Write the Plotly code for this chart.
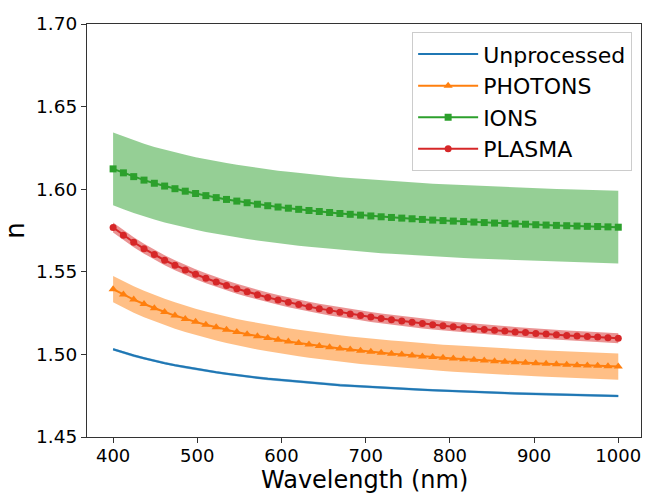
import plotly.graph_objects as go

wavelength = [400, 412.24, 424.49, 436.73, 448.98, 461.22, 473.47, 485.71, 497.96, 510.20,
              522.45, 534.69, 546.94, 559.18, 571.43, 583.67, 595.92, 608.16, 620.41, 632.65,
              644.90, 657.14, 669.39, 681.63, 693.88, 706.12, 718.37, 730.61, 742.86, 755.10,
              767.35, 779.59, 791.84, 804.08, 816.33, 828.57, 840.82, 853.06, 865.31, 877.55,
              889.80, 902.04, 914.29, 926.53, 938.78, 951.02, 963.27, 975.51, 987.76, 1000]

unprocessed = [1.5031, 1.5011, 1.4993, 1.4977, 1.4961, 1.4947, 1.4934, 1.4923, 1.4911, 1.4901,
               1.4892, 1.4883, 1.4874, 1.4866, 1.4859, 1.4852, 1.4846, 1.4840, 1.4834, 1.4829,
               1.4824, 1.4819, 1.4814, 1.4810, 1.4806, 1.4802, 1.4798, 1.4795, 1.4792, 1.4789,
               1.4786, 1.4783, 1.4780, 1.4777, 1.4775, 1.4773, 1.4770, 1.4768, 1.4766, 1.4764,
               1.4762, 1.4760, 1.4759, 1.4757, 1.4755, 1.4754, 1.4752, 1.4751, 1.4749, 1.4748]

photons = [1.5395, 1.5362, 1.5332, 1.5305, 1.5280, 1.5257, 1.5235, 1.5215, 1.5197, 1.5180,
           1.5164, 1.5149, 1.5135, 1.5122, 1.5110, 1.5099, 1.5088, 1.5078, 1.5069, 1.5060,
           1.5051, 1.5044, 1.5036, 1.5029, 1.5022, 1.5016, 1.5010, 1.5004, 1.4999, 1.4993,
           1.4988, 1.4984, 1.4979, 1.4975, 1.4971, 1.4967, 1.4963, 1.4959, 1.4956, 1.4953,
           1.4950, 1.4947, 1.4944, 1.4941, 1.4938, 1.4935, 1.4933, 1.4931, 1.4928, 1.4926]

ions = [1.6123, 1.6099, 1.6076, 1.6055, 1.6036, 1.6019, 1.6003, 1.5988, 1.5974, 1.5961,
        1.5949, 1.5938, 1.5928, 1.5918, 1.5909, 1.5900, 1.5892, 1.5885, 1.5878, 1.5871,
        1.5865, 1.5859, 1.5853, 1.5848, 1.5843, 1.5838, 1.5833, 1.5829, 1.5825, 1.5821,
        1.5817, 1.5813, 1.5810, 1.5807, 1.5804, 1.5801, 1.5798, 1.5795, 1.5793, 1.5790,
        1.5788, 1.5785, 1.5783, 1.5781, 1.5779, 1.5777, 1.5775, 1.5774, 1.5772, 1.5770]

plasma = [1.5768, 1.5721, 1.5679, 1.5640, 1.5604, 1.5570, 1.5540, 1.5511, 1.5485, 1.5461,
          1.5438, 1.5417, 1.5397, 1.5379, 1.5361, 1.5345, 1.5330, 1.5315, 1.5302, 1.5289,
          1.5277, 1.5266, 1.5255, 1.5245, 1.5236, 1.5226, 1.5218, 1.5210, 1.5202, 1.5194,
          1.5187, 1.5180, 1.5174, 1.5168, 1.5162, 1.5156, 1.5151, 1.5146, 1.5141, 1.5136,
          1.5132, 1.5127, 1.5123, 1.5119, 1.5115, 1.5112, 1.5108, 1.5105, 1.5101, 1.5098]

series_names = ["Unprocessed", "PHOTONS", "IONS", "PLASMA"]
series_errors = [0.0008, 0.008, 0.022, 0.003]
x_ticks = [400, 500, 600, 700, 800, 900, 1000]
y_ticks = [1.45, 1.50, 1.55, 1.60, 1.65, 1.70]

series_values = [unprocessed, photons, ions, plasma]
colors = ["#1f77b4", "#ff7f0e", "#2ca02c", "#d62728"]
bands = ["rgba(31,119,180,0.5)", "rgba(255,127,14,0.5)", "rgba(44,160,44,0.5)", "rgba(214,39,40,0.5)"]
symbols = [None, "triangle-up", "square", "circle"]
sizes = [0, 8, 7, 7]

fig = go.Figure()

for vals, err, band in zip(series_values, series_errors, bands):
    upper = [v + err for v in vals]
    lower = [v - err for v in vals]
    fig.add_trace(go.Scatter(x=wavelength + wavelength[::-1], y=upper + lower[::-1],
                             fill="toself", fillcolor=band, line=dict(width=0),
                             mode="lines", showlegend=False, hoverinfo="skip"))

for name, vals, col, sym, sz in zip(series_names, series_values, colors, symbols, sizes):
    if sym is None:
        fig.add_trace(go.Scatter(x=wavelength, y=vals, mode="lines", name=name,
                                 line=dict(color=col, width=2)))
    else:
        fig.add_trace(go.Scatter(x=wavelength, y=vals, mode="lines+markers", name=name,
                                 line=dict(color=col, width=2),
                                 marker=dict(symbol=sym, size=sz, color=col, line=dict(width=0))))

axis_common = dict(showgrid=False, zeroline=False, showline=True, linecolor="#333333",
                   linewidth=1, mirror=True, ticks="outside", ticklen=5, tickwidth=1,
                   tickcolor="#333333")

fig.update_xaxes(range=[369, 1027], tickvals=x_ticks, automargin=False, ticklabelstandoff=-3,
                 tickfont=dict(family="DejaVu Sans", size=18, color="black"),
                 **axis_common)
fig.update_yaxes(range=[1.45, 1.70], tickvals=y_ticks, tickformat=".2f",
                 tickfont=dict(family="DejaVu Sans", size=18.5, color="black"),
                 title=dict(text="n", font=dict(family="DejaVu Sans", size=26, color="black"),
                            standoff=10),
                 **axis_common)

fig.add_annotation(text="Wavelength (nm)", xref="paper", yref="paper", x=0.5, y=-0.14,
                   xanchor="center", yanchor="bottom", showarrow=False, borderpad=0,
                   font=dict(family="DejaVu Sans", size=24, color="black"))

fig.update_layout(
    width=645, height=495,
    margin=dict(l=87, r=4, t=24, b=58),
    paper_bgcolor="white", plot_bgcolor="white",
    font=dict(family="DejaVu Sans", color="black"),
    legend=dict(x=0.984, y=0.98, xanchor="right", yanchor="top",
                bgcolor="rgba(255,255,255,0.8)", bordercolor="#cccccc", borderwidth=1,
                font=dict(family="DejaVu Sans", size=22, color="black"),
                itemwidth=60),
)

fig.write_html("out.html")
